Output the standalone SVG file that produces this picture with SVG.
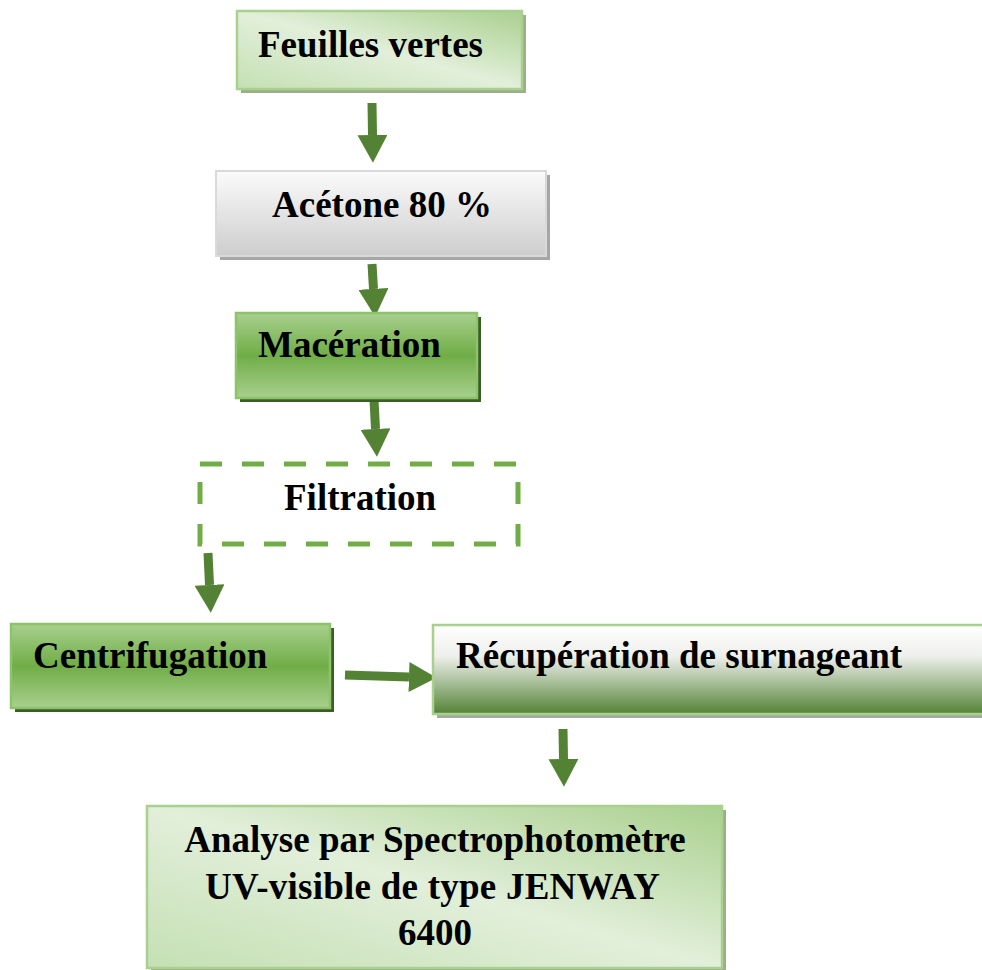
<svg xmlns="http://www.w3.org/2000/svg" width="982" height="970" viewBox="0 0 982 970">
<defs>
<linearGradient id="gLight" x1="0" y1="1" x2="1" y2="0">
<stop offset="0" stop-color="#c5e0b4"/>
<stop offset="0.5" stop-color="#e2efda"/>
<stop offset="1" stop-color="#a9d08e"/>
</linearGradient>
<linearGradient id="gGray" x1="0" y1="0" x2="0" y2="1">
<stop offset="0" stop-color="#fbfbfb"/>
<stop offset="1" stop-color="#cdcdcd"/>
</linearGradient>
<linearGradient id="gBand" x1="0" y1="0" x2="0" y2="1">
<stop offset="0" stop-color="#a9d08e"/>
<stop offset="0.5" stop-color="#70ad47"/>
<stop offset="1" stop-color="#a9d08e"/>
</linearGradient>
<linearGradient id="gRec" x1="0" y1="0" x2="0" y2="1">
<stop offset="0" stop-color="#ffffff"/>
<stop offset="0.35" stop-color="#eef0ec"/>
<stop offset="1" stop-color="#548235"/>
</linearGradient>
<marker id="ah" markerUnits="userSpaceOnUse" markerWidth="28" markerHeight="30" refX="0" refY="13" orient="auto" viewBox="0 0 24 26">
<path d="M0,0 L24,13 L0,26 z" fill="#548235"/>
</marker>
<style>
.t{font-family:"Liberation Serif","Times New Roman",serif;font-weight:bold;font-size:37px;fill:#000}
.c{stroke:#548235;stroke-width:9;fill:none}
.lb{stroke:#a9d08e;stroke-width:2.5}
</style>
</defs>
<rect width="982" height="970" fill="#fff"/>
<g id="connectors">
<line class="c" x1="372" y1="103" x2="372.5" y2="135" marker-end="url(#ah)"/>
<line class="c" x1="372" y1="264" x2="373.5" y2="289" marker-end="url(#ah)"/>
<line class="c" x1="374" y1="400" x2="375.5" y2="429" marker-end="url(#ah)"/>
<line class="c" x1="208" y1="553" x2="209.5" y2="585" marker-end="url(#ah)"/>
<line class="c" x1="345" y1="675" x2="409" y2="677" marker-end="url(#ah)"/>
<line class="c" x1="563" y1="729" x2="563.5" y2="759" marker-end="url(#ah)"/>
</g>
<g id="feuilles">
<rect x="241" y="15" width="285" height="78" fill="#9aaf8a"/>
<rect x="237" y="11" width="285" height="78" fill="url(#gLight)" class="lb"/>
<text class="t" x="258" y="57">Feuilles vertes</text>
</g>
<g id="acetone">
<rect x="220" y="175" width="330" height="85" fill="#a6a6a6"/>
<rect x="216" y="171" width="330" height="85" fill="url(#gGray)" stroke="#d9d9d9" stroke-width="2"/>
<text class="t" x="272" y="217">Acétone 80 %</text>
</g>
<g id="maceration">
<rect x="240" y="317" width="241" height="85" fill="#3c5e26"/>
<rect x="236" y="313" width="241" height="85" fill="url(#gBand)" stroke="#8cc46a" stroke-width="2.5"/>
<text class="t" x="258" y="357">Macération</text>
</g>
<g id="filtration">
<rect x="200" y="464" width="318" height="80" fill="none" stroke="#70ad47" stroke-width="5" stroke-dasharray="22 20"/>
<text class="t" x="284" y="510">Filtration</text>
</g>
<g id="centrifugation">
<rect x="15" y="628" width="319" height="84" fill="#3c5e26"/>
<rect x="11" y="624" width="319" height="84" fill="url(#gBand)" stroke="#8cc46a" stroke-width="2.5"/>
<text class="t" x="33" y="668">Centrifugation</text>
</g>
<g id="recuperation">
<rect x="437" y="629" width="560" height="89" fill="#a5aaa0"/>
<rect x="433" y="625" width="560" height="89" fill="url(#gRec)" class="lb"/>
<text class="t" x="456" y="668">Récupération de surnageant</text>
</g>
<g id="analyse">
<rect x="151" y="810" width="575" height="162" fill="#9aaf8a"/>
<rect x="147" y="806" width="575" height="162" fill="url(#gLight)" class="lb"/>
<text class="t" x="435" y="852" text-anchor="middle">Analyse par Spectrophotomètre</text>
<text class="t" x="205" y="899" textLength="455" lengthAdjust="spacing">UV-visible de type JENWAY</text>
<text class="t" x="435" y="945" text-anchor="middle">6400</text>
</g>
</svg>
